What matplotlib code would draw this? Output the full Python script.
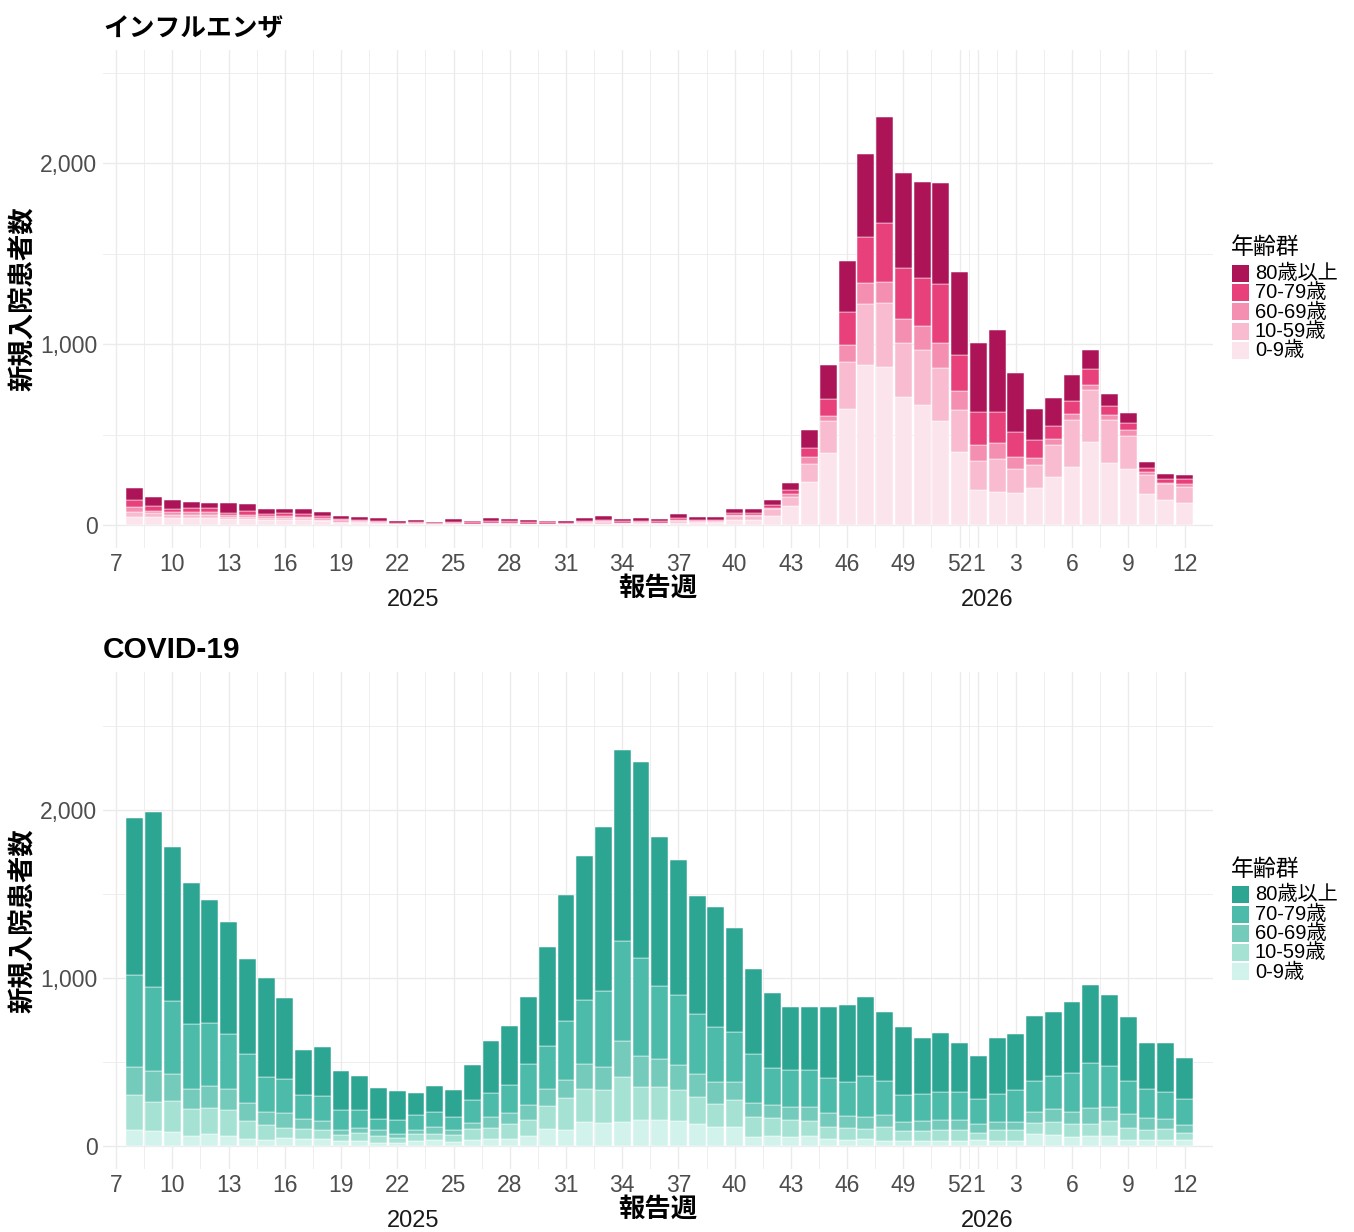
#!/usr/bin/env python3
"""
Weekly new hospital admissions by age group, influenza and COVID-19,
2025 week 8 to 2026 week 12 (stacked bars).
"""
import matplotlib
matplotlib.use("Agg")
import matplotlib.pyplot as plt
from matplotlib.patches import Rectangle
from matplotlib.ticker import FuncFormatter

plt.rcParams['font.family'] = ['Liberation Sans', 'Noto Sans CJK JP']

# report weeks: 2025 w8..w52, then 2026 w1..w12
weeks_2025 = list(range(8, 53))
weeks_2026 = list(range(1, 13))

age_groups = ['0-9歳', '10-59歳', '60-69歳', '70-79歳', '80歳以上']

# influenza (2025 w8..w52 | 2026 w1..w12)
flu_0_9 = [46, 42, 39, 37, 39, 31, 31, 28, 28, 28, 20, 13, 11, 7, 3, 3, 2, 4, 3, 5,
           4, 3, 3, 3, 5, 8, 5, 5, 5, 11, 10, 9, 29, 29, 52, 105, 238, 396, 639, 883,
           872, 706, 661, 574, 404,
           195, 184, 179, 205, 265, 321, 460, 344, 308, 173, 140, 120]
flu_10_59 = [28, 22, 15, 18, 18, 13, 15, 11, 13, 11, 9, 6, 6, 4, 2, 3, 1, 3, 3, 4,
             4, 2, 3, 2, 5, 7, 5, 5, 4, 9, 7, 7, 20, 18, 35, 50, 97, 179, 261, 341,
             357, 299, 307, 291, 234,
             157, 181, 131, 127, 177, 259, 284, 234, 186, 103, 85, 88]
flu_60_69 = [28, 15, 15, 15, 13, 9, 9, 9, 9, 7, 7, 6, 4, 4, 2, 3, 2, 3, 2, 4,
             3, 3, 2, 2, 4, 5, 3, 4, 4, 6, 4, 4, 7, 7, 9, 15, 41, 27, 92, 112,
             116, 132, 129, 140, 101,
             90, 86, 68, 37, 33, 32, 30, 28, 33, 17, 7, 19]
flu_70_79 = [37, 26, 22, 24, 24, 15, 22, 13, 15, 13, 13, 9, 7, 7, 5, 7, 4, 8, 6, 10,
             9, 7, 6, 5, 8, 10, 7, 8, 7, 11, 8, 8, 11, 11, 13, 22, 51, 96, 186, 254,
             325, 284, 267, 326, 201,
             182, 173, 136, 99, 72, 73, 88, 51, 38, 24, 24, 27]
flu_80plus = [66, 50, 48, 31, 26, 55, 37, 29, 26, 28, 22, 18, 17, 15, 8, 12, 6, 13, 10, 17,
              15, 11, 10, 8, 15, 20, 13, 15, 13, 24, 17, 16, 22, 24, 28, 39, 96, 184, 282, 460,
              586, 525, 530, 560, 458,
              381, 453, 324, 171, 155, 144, 105, 65, 52, 31, 24, 24]

# COVID-19 (2025 w8..w52 | 2026 w1..w12)
cov_0_9 = [94, 88, 82, 58, 70, 62, 40, 34, 46, 40, 44, 28, 28, 20, 16, 30, 34, 24, 34, 44,
           44, 58, 101, 97, 143, 135, 143, 157, 157, 149, 133, 113, 113, 54, 62, 54, 58, 44, 38, 40,
           32, 30, 27, 27, 27,
           33, 27, 27, 69, 63, 53, 57, 57, 33, 37, 37, 33]
cov_10_59 = [208, 171, 187, 161, 156, 151, 109, 90, 63, 64, 50, 40, 50, 40, 30, 40, 40, 40, 66, 65,
             85, 95, 137, 187, 198, 197, 266, 197, 197, 184, 161, 137, 159, 119, 105, 99, 91, 69, 71, 60,
             79, 57, 62, 66, 66,
             46, 66, 66, 67, 77, 75, 73, 89, 73, 56, 65, 45]
cov_60_69 = [169, 190, 159, 119, 131, 125, 105, 77, 87, 57, 54, 30, 31, 34, 24, 28, 37, 34, 36, 62,
             65, 89, 99, 109, 149, 139, 214, 181, 163, 147, 133, 131, 107, 85, 78, 79, 83, 83, 70, 74,
             72, 54, 57, 60, 60,
             54, 52, 50, 64, 79, 77, 99, 89, 85, 75, 59, 48]
cov_70_79 = [544, 500, 436, 389, 375, 331, 296, 210, 202, 141, 149, 115, 103, 69, 87, 85, 89, 76, 135, 147,
             167, 244, 258, 349, 381, 450, 597, 583, 434, 420, 357, 328, 298, 290, 217, 219, 219, 209, 202, 242,
             206, 162, 161, 169, 167,
             145, 167, 189, 187, 195, 230, 266, 242, 195, 169, 163, 151]
cov_80plus = [935, 1038, 913, 837, 732, 663, 563, 589, 484, 272, 291, 232, 205, 185, 171, 135, 159, 159, 212, 308,
              355, 399, 588, 754, 853, 978, 1137, 1169, 887, 804, 704, 716, 620, 506, 448, 379, 379, 425, 456, 468,
              408, 403, 337, 349, 290,
              260, 333, 337, 385, 383, 419, 466, 419, 379, 274, 286, 244]

flu_colors = ['#fce4ec', '#f8bbd0', '#f48fb1', '#e8407a', '#ad1457']
cov_colors = ['#d2f3ec', '#a5e2d3', '#75cbbb', '#4dbbaa', '#2ca593']

# continuous week index: 2026 weeks follow 2025 week 52
x_pos = weeks_2025 + [52 + w for w in weeks_2026]
tick_pos = list(range(7, 53, 3)) + [53, 55, 58, 61, 64]
tick_lab = [str(w) for w in range(7, 53, 3)] + ['1', '3', '6', '9', '12']
minor_pos = [(a + b) / 2 for a, b in zip(tick_pos[:-1], tick_pos[1:])] + [65.5]

W, H = 1354, 1232
GRID = '#ebebeb'


def fx(px):
    return px / W


def fy(py):
    return 1 - py / H


def draw_panel(ax, series, colors, title, title_size, ylim):
    bottom = [0] * len(x_pos)
    for vals, col in zip(series, colors):
        ax.bar(x_pos, vals, bottom=bottom, width=0.9, color=col,
               edgecolor='white', linewidth=0.35, zorder=3)
        bottom = [b + v for b, v in zip(bottom, vals)]

    ax.set_xlim(6.3, 65.52)
    ax.set_ylim(*ylim)
    ax.set_xticks(tick_pos)
    ax.set_xticklabels(tick_lab)
    ax.set_xticks(minor_pos, minor=True)
    ax.set_yticks([0, 1000, 2000])
    ax.set_yticks([500, 1500, 2500], minor=True)
    ax.yaxis.set_major_formatter(FuncFormatter(lambda v, p: f"{v:,.0f}"))
    ax.grid(which='major', color=GRID, linewidth=1.0, zorder=0)
    ax.grid(which='minor', color=GRID, linewidth=0.6, zorder=0)
    ax.set_axisbelow(True)
    for s in ax.spines.values():
        s.set_visible(False)
    ax.tick_params(which='both', length=0)
    ax.tick_params(axis='x', pad=4, labelsize=16.5, labelcolor='#4d4d4d')
    ax.tick_params(axis='y', pad=4, labelsize=16.5, labelcolor='#4d4d4d')

    ax.set_xlabel('報告週', fontsize=19, fontweight='bold', labelpad=0)
    ax.set_ylabel('新規入院患者数', fontsize=19, fontweight='bold', labelpad=3)
    ax.set_title(title, loc='left', fontsize=title_size, fontweight='bold', pad=10)

    # year labels under the week numbers
    for xv, yr in [(22.84, '2025'), (53.45, '2026')]:
        ax.annotate(yr, xy=(xv, 0), xycoords=('data', 'axes fraction'),
                    xytext=(0, -37.5), textcoords='offset points',
                    ha='center', va='center', fontsize=17, color='#1a1a1a')

    # legend on the right, centred on the panel
    box = ax.get_position()
    cy = (1 - (box.y0 + box.height / 2)) * H
    fig.text(fx(1231), fy(cy - 51), '年齢群', fontsize=16.5, va='center', ha='left')
    for i, (lab, col) in enumerate(zip(age_groups[::-1], colors[::-1])):
        yc = cy - 25.5 + i * 19.3
        fig.patches.append(Rectangle((fx(1232), fy(yc + 8.5)), 17 / W, 17 / H,
                                     transform=fig.transFigure, facecolor=col,
                                     edgecolor='none'))
        fig.text(fx(1255), fy(yc), lab, fontsize=14.5, va='center', ha='left')


fig = plt.figure(figsize=(W / 100, H / 100), dpi=100)
ax1 = fig.add_axes([fx(103), fy(547.6), 1110 / W, 497.6 / H])
ax2 = fig.add_axes([fx(103), fy(1168.5), 1110 / W, 496.5 / H])

draw_panel(ax1, [flu_0_9, flu_10_59, flu_60_69, flu_70_79, flu_80plus],
           flu_colors, 'インフルエンザ', 18.5, (-125, 2625))
draw_panel(ax2, [cov_0_9, cov_10_59, cov_60_69, cov_70_79, cov_80plus],
           cov_colors, 'COVID-19', 21.5, (-134, 2821))

fig.savefig('out.png', dpi=100, facecolor='white')
